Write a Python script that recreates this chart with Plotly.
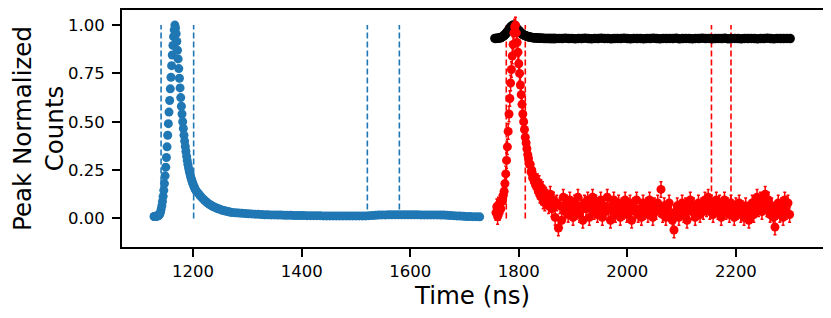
import numpy as np
import plotly.graph_objects as go

# ---------------- data ----------------
# Blue trace (reference pulse): three sampling segments (start, step) with read values
BLUE_SEG1 = (1128.0, 1.2)
BLUE_V1 = [0.010, 0.010, 0.011, 0.011, 0.012, 0.012, 0.013, 0.015, 0.018, 0.024, 0.034,
           0.048, 0.066, 0.088, 0.114, 0.145, 0.18, 0.22, 0.265, 0.315, 0.37, 0.43, 0.49,
           0.55, 0.61, 0.67, 0.73, 0.79, 0.845, 0.895, 0.94, 0.975, 1.0,
           0.985, 0.955, 0.915, 0.87, 0.825, 0.775, 0.725, 0.675, 0.625, 0.58, 0.54, 0.50,
           0.465, 0.43, 0.40, 0.372, 0.346, 0.322, 0.30, 0.28, 0.262, 0.246, 0.232, 0.219,
           0.207, 0.196, 0.186, 0.177, 0.168, 0.16, 0.153, 0.146, 0.14]
BLUE_SEG2 = (1209.0, 3.0)
BLUE_V2 = [0.132, 0.121, 0.111, 0.102, 0.094, 0.086, 0.079, 0.073, 0.068, 0.063, 0.059,
           0.055, 0.051, 0.048, 0.045, 0.042, 0.040, 0.038, 0.036, 0.034, 0.032, 0.031]
BLUE_SEG3 = (1278.0, 6.0)
BLUE_V3 = [0.029, 0.028, 0.026, 0.025, 0.024, 0.023, 0.022, 0.021, 0.020, 0.019, 0.019, 0.018, 0.018,
           0.017, 0.017, 0.016, 0.016, 0.016, 0.015, 0.015, 0.015, 0.015, 0.014, 0.014, 0.014,
           0.014, 0.014, 0.013, 0.013, 0.013, 0.013, 0.013, 0.013, 0.013, 0.013, 0.013, 0.013,
           0.013, 0.013, 0.013, 0.013,
           0.014, 0.015, 0.016, 0.017, 0.018, 0.018, 0.019, 0.019, 0.019, 0.019, 0.019, 0.019,
           0.019, 0.019, 0.019, 0.019, 0.018, 0.018, 0.018, 0.018, 0.018, 0.018, 0.017, 0.017,
           0.016, 0.015, 0.014, 0.013, 0.012, 0.011, 0.010, 0.010, 0.009, 0.009, 0.008]

# Black trace (flat level with bump)
BLACK_SEG1 = (1756.0, 2.0)
BLACK_V1 = [0.931, 0.931, 0.932, 0.932, 0.933, 0.934, 0.936,
            0.940, 0.944, 0.949, 0.955, 0.962, 0.969, 0.977, 0.985, 0.992, 0.997, 1.0,
            0.997, 0.991, 0.984, 0.977, 0.971, 0.965, 0.960, 0.955, 0.951, 0.948,
            0.945, 0.943, 0.941, 0.939, 0.938, 0.937, 0.936, 0.935, 0.934, 0.934,
            0.933, 0.933, 0.933, 0.932, 0.932, 0.932, 0.932, 0.931, 0.931, 0.931, 0.931,
            0.931, 0.931, 0.930, 0.930, 0.930, 0.930, 0.930, 0.930]
BLACK_SEG2 = (1874.0, 6.0)
BLACK_V2 = [0.931, 0.930, 0.932, 0.930, 0.931, 0.929, 0.931, 0.930, 0.932, 0.930,
            0.929, 0.931, 0.930, 0.932, 0.930, 0.931, 0.929, 0.930, 0.931, 0.930,
            0.932, 0.930, 0.929, 0.931, 0.930, 0.931, 0.929, 0.931, 0.930, 0.932,
            0.930, 0.929, 0.931, 0.930, 0.931, 0.930, 0.932, 0.929, 0.930, 0.931,
            0.930, 0.929, 0.931, 0.930, 0.932, 0.930, 0.931, 0.929, 0.930, 0.931,
            0.930, 0.932, 0.929, 0.930, 0.931, 0.930, 0.929, 0.931, 0.930, 0.931,
            0.930, 0.929, 0.931, 0.930, 0.932, 0.930, 0.929, 0.931, 0.930, 0.930,
            0.931, 0.930]

# Red trace (with error bars)
RED_SEG1 = (1758.0, 1.5)
RED_V1 = [0.03, 0.06, 0.01, 0.07, 0.03, 0.08, 0.05, 0.09, 0.09, 0.12, 0.14, 0.18, 0.23,
          0.30, 0.37, 0.45, 0.54, 0.62, 0.70, 0.77, 0.84, 0.90, 0.96, 0.99, 1.0,
          0.96, 0.91, 0.86, 0.80, 0.75, 0.69, 0.64, 0.59, 0.54, 0.50, 0.46, 0.42, 0.39,
          0.36, 0.33, 0.31, 0.28, 0.28, 0.24, 0.25, 0.21, 0.22, 0.19, 0.20, 0.17, 0.18,
          0.19, 0.14, 0.18, 0.12, 0.16, 0.11, 0.15, 0.09, 0.13, 0.08, 0.12]
RED_SEG2 = (1852.0, 3.0)
RED_V2 = [0.11, 0.065, 0.125, 0.05, 0.095, 0.005, 0.08, -0.05, 0.065, -0.01,
          0.11, 0.035, 0.08, 0.02, 0.095, 0.05, 0.005, 0.08, 0.035, 0.11,
          0.02, 0.065, -0.01, 0.08, 0.05, 0.095, 0.005, 0.065, 0.11, 0.035,
          0.08, 0.02, 0.05, 0.095, 0.005, 0.065, 0.035, 0.11, 0.05, -0.01,
          0.065, 0.095, 0.02, 0.05, 0.08, 0.005, 0.065, 0.035, 0.095, 0.02,
          0.05, 0.08, -0.01, 0.065, 0.035, 0.095, 0.02, 0.05, 0.005, 0.08,
          0.035, 0.065, 0.02, 0.095, 0.05, 0.005, 0.065, 0.035, 0.08, 0.05,
          0.15, 0.02, 0.065, 0.005, 0.05, 0.08, 0.02, -0.01, -0.06, 0.035,
          0.065, 0.005, 0.05, 0.08, 0.02, 0.065, -0.01, 0.05, 0.095, 0.035,
          0.065, 0.005, 0.05, 0.08, 0.02, 0.065, 0.035, 0.095, 0.05, 0.11,
          0.035, 0.08, 0.02, 0.065, 0.095, 0.035, 0.08, 0.005, 0.05, 0.095,
          0.035, 0.065, 0.02, 0.08, 0.05, 0.005, 0.065, 0.035, 0.08, 0.02,
          0.05, 0.005, 0.065, 0.035, -0.01, 0.05, 0.08, 0.02, 0.065, 0.11,
          0.05, 0.095, 0.035, 0.08, 0.125, 0.05, 0.095, 0.02, 0.065, 0.005,
          -0.045, 0.035, 0.08, 0.02, 0.065, 0.005, 0.095, 0.035, 0.08, 0.02]
RED_ERR = 0.04

BLUE_VLINES = [1141, 1201, 1521, 1580]
RED_VLINES = [1777, 1812, 2155, 2191]

X_TICKS = [1200, 1400, 1600, 1800, 2000, 2200]
Y_TICKS = [0.0, 0.25, 0.5, 0.75, 1.0]
Y_TICKTEXT = ["0.00", "0.25", "0.50", "0.75", "1.00"]


def grid(seg, vals):
    start, step = seg
    return list(start + step * np.arange(len(vals)))


blue_t = grid(BLUE_SEG1, BLUE_V1) + grid(BLUE_SEG2, BLUE_V2) + grid(BLUE_SEG3, BLUE_V3)
blue_v = BLUE_V1 + BLUE_V2 + BLUE_V3
black_t = grid(BLACK_SEG1, BLACK_V1) + grid(BLACK_SEG2, BLACK_V2)
black_v = BLACK_V1 + BLACK_V2
red_t = grid(RED_SEG1, RED_V1) + grid(RED_SEG2, RED_V2)
red_v = RED_V1 + RED_V2

BLUE = "#1f77b4"
RED = "#ff0000"
FONT = "DejaVu Sans"

fig = go.Figure()
fig.add_trace(go.Scatter(x=blue_t, y=blue_v, mode="markers",
                         marker=dict(color=BLUE, size=9, line=dict(width=0)), showlegend=False))
fig.add_trace(go.Scatter(x=black_t, y=black_v, mode="markers",
                         marker=dict(color="black", size=9.5, line=dict(width=0)), showlegend=False))
fig.add_trace(go.Scatter(x=red_t, y=red_v, mode="markers",
                         marker=dict(color=RED, size=9, line=dict(width=0)),
                         error_y=dict(type="constant", value=RED_ERR, color=RED,
                                      thickness=1.5, width=1.5),
                         showlegend=False))

for xv in BLUE_VLINES:
    fig.add_shape(type="line", x0=xv, x1=xv, y0=0, y1=1, xref="x", yref="y",
                  line=dict(color=BLUE, width=1.6, dash="6px,3px"), layer="below")
for xv in RED_VLINES:
    fig.add_shape(type="line", x0=xv, x1=xv, y0=0, y1=1, xref="x", yref="y",
                  line=dict(color=RED, width=1.6, dash="6px,3px"), layer="below")

axis_common = dict(showgrid=False, zeroline=False, showline=True, linewidth=2,
                   linecolor="black", mirror=True, ticks="outside", ticklen=8,
                   tickwidth=2, tickcolor="black", automargin=False,
                   tickfont=dict(family=FONT, size=16.5, color="black"))

fig.update_xaxes(range=[1069, 2360.5], tickvals=X_TICKS,
                 title=dict(text="Time (ns)", font=dict(family=FONT, size=24.5, color="black"),
                            standoff=6),
                 **axis_common)
fig.update_yaxes(range=[-0.148, 1.078], tickvals=Y_TICKS, ticktext=Y_TICKTEXT,
                 ticklabelstandoff=4,
                 title=dict(text="Peak Normalized<br>Counts",
                            font=dict(family=FONT, size=24.5, color="black"), standoff=14),
                 **axis_common)

# page body has an 8px margin, so the figure is sized to fit the 831x318 window
fig.update_layout(width=823, height=310, margin=dict(l=114, r=8, t=2, b=71),
                  paper_bgcolor="white", plot_bgcolor="white",
                  font=dict(family=FONT, color="black"))

fig.write_html("out.html")
